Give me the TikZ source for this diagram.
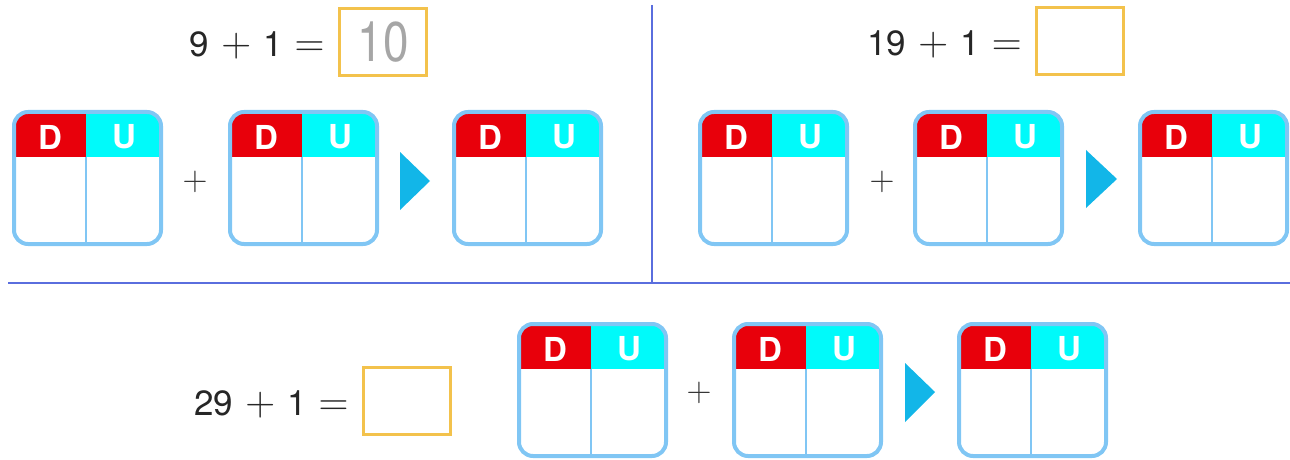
\documentclass[tikz,border=0pt]{standalone}
\usepackage{fontspec}
\setmainfont{TeX Gyre Heros}
\usepackage{graphicx}
\definecolor{rosso}{HTML}{E8000B}
\definecolor{ciano}{HTML}{00FAFA}
\definecolor{bordo}{HTML}{80C6F4}
\definecolor{freccia}{HTML}{12B6E8}
\definecolor{oro}{HTML}{F3C24C}
\definecolor{linea}{HTML}{5A6EDE}
\newcommand{\opPiu}{\hspace{6pt}\scalebox{1.2}{$+$}\hspace{6pt}}
\newcommand{\opUguale}{\hspace{6pt}\scalebox{1.2}{$=$}}
\begin{document}
\begin{tikzpicture}[x=0.5pt, y=-0.5pt,
    testo/.style={inner sep=0pt, text=black!85, font=\fontsize{17.5}{20}\selectfont},
    casella/.style={draw=oro, line width=1.5pt, minimum width=43.5pt, minimum height=33.5pt, inner sep=0pt},
    lettera/.style={text=white, inner sep=0pt, font=\fontsize{16.5}{18}\selectfont\bfseries},
    piu/.style={inner sep=0pt, text=black!80, font=\fontsize{17}{20}\selectfont}]
        \useasboundingbox (0,0) rectangle (1290,460);

        % Linee di separazione
        \coordinate (vA) at (652,5);
        \coordinate (vB) at (652,283);
        \coordinate (hA) at (8,283);
        \coordinate (hB) at (1290,283);
        \draw[linea, line width=1pt] (vA) -- (vB);
        \draw[linea, line width=1pt] (hA) -- (hB);

        % Uguaglianze
        \node[testo, anchor=base east] (eq1) at (325,57) {9\opPiu 1\opUguale};
        \node[testo, anchor=base east] (eq2) at (1022,56) {19\opPiu 1\opUguale};
        \node[testo, anchor=base east] (eq3) at (349,415) {29\opPiu 1\opUguale};

        % Caselle dei risultati
        \node[casella, text=black!35] (ris1) at (383,42) {\fontsize{28}{30}\selectfont\scalebox{0.82}[1]{10}};
        \node[casella] (ris2) at (1079.5,41) {};
        \node[casella] (ris3) at (407,401) {};

        % Tabelle D U
        \foreach \x/\y [count=\i] in {12/110, 228/110, 452/110, 698/110, 913/110, 1138/110, 517/322, 732/322, 957/322} {
            \begin{scope}[shift={(\x,\y)}]
                \begin{scope}
                    \clip[rounded corners=7pt] (2,2) rectangle (149,134);
                    \fill[rosso] (0,0) rectangle (74,47);
                    \fill[ciano] (74,0) rectangle (151,47);
                \end{scope}
                \draw[bordo, line width=1pt] (74,47) -- (74,134);
                \draw[bordo, line width=2pt, rounded corners=7pt] (2,2) rectangle (149,134);
                \node[lettera] (d\i) at (38,27) {D};
                \node[lettera] (u\i) at (112,27) {U};
            \end{scope}
        }

        % Segni piu
        \node[piu] (p1) at (195,182) {$+$};
        \node[piu] (p2) at (882,182) {$+$};
        \node[piu] (p3) at (699,393) {$+$};

        % Frecce
        \fill[freccia] (400,152) -- (430,181) -- (400,210) -- cycle;
        \fill[freccia] (1086,150) -- (1117,179) -- (1086,208) -- cycle;
        \fill[freccia] (905,363) -- (935,392) -- (905,422) -- cycle;
\end{tikzpicture}
\end{document}
